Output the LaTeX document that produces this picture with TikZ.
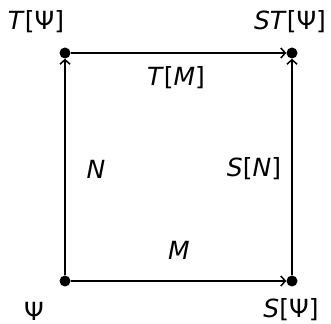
\documentclass[tikz,border=0pt]{standalone}
\usepackage{fontspec}
\setmainfont{DejaVu Sans}
\usetikzlibrary{arrows.meta}
\begin{document}
\begin{tikzpicture}[x=1pt,y=1pt,
  dot/.style={circle,fill=black,inner sep=0pt,minimum size=11pt},
  lbl/.style={font=\fontsize{25}{30}\selectfont,inner sep=0pt},
  arr/.style={line width=2pt,-{Straight Barb[length=4.5pt,width=10pt,line width=1.5pt]}}]
\useasboundingbox (0,0) rectangle (331,323);
\node[dot] (tl) at (65,270) {};
\node[dot] (tr) at (292,270) {};
\node[dot] (bl) at (65,42) {};
\node[dot] (br) at (292,42) {};
\draw[arr] (tl) -- (tr);
\draw[arr] (bl) -- (br);
\draw[arr] (bl) -- (tl);
\draw[arr] (br) -- (tr);
\node[lbl] (ltl) at (36,301) {\textit{T}[Ψ]};
\node[lbl] (ltr) at (290,301) {\textit{ST}[Ψ]};
\node[lbl] (lbl) at (34,12) {Ψ};
\node[lbl] (lbr) at (291,13) {\textit{S}[Ψ]};
\node[lbl] (ltm) at (176,245) {\textit{T}[\textit{M}]};
\node[lbl] (ln) at (96,154) {\textit{N}};
\node[lbl] (lsn) at (254,154) {\textit{S}[\textit{N}]};
\node[lbl] (lm) at (179,73) {\textit{M}};
\end{tikzpicture}
\end{document}
